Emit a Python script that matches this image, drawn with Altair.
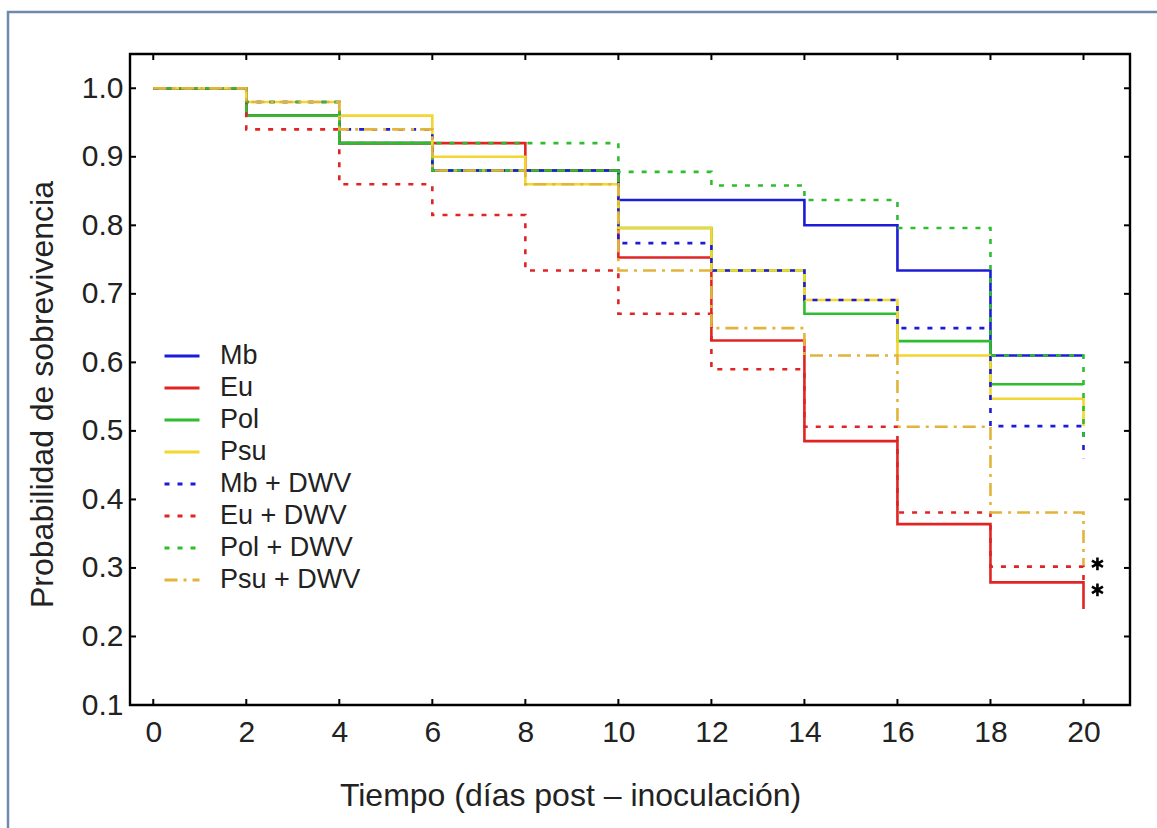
import altair as alt
import pandas as pd

# ---- data (Kaplan-Meier style step curves) ----
days = [0, 2, 4, 6, 8, 10, 12, 14, 16, 18, 20, 20]
series_names = ["Mb", "Eu", "Pol", "Psu", "Mb + DWV", "Eu + DWV", "Pol + DWV", "Psu + DWV"]

mb      = [1.00, 0.96, 0.92, 0.88, 0.88, 0.837, 0.837, 0.800, 0.734, 0.610, 0.610, 0.610]
eu      = [1.00, 0.96, 0.92, 0.92, 0.88, 0.753, 0.632, 0.485, 0.364, 0.279, 0.279, 0.240]
pol     = [1.00, 0.96, 0.92, 0.88, 0.88, 0.796, 0.734, 0.671, 0.631, 0.568, 0.568, 0.568]
psu     = [1.00, 0.98, 0.96, 0.90, 0.86, 0.796, 0.734, 0.691, 0.610, 0.547, 0.547, 0.507]
mb_dwv  = [1.00, 0.98, 0.94, 0.88, 0.88, 0.774, 0.734, 0.691, 0.650, 0.507, 0.507, 0.460]
eu_dwv  = [1.00, 0.94, 0.86, 0.815, 0.734, 0.671, 0.590, 0.506, 0.381, 0.302, 0.302, 0.280]
pol_dwv = [1.00, 0.98, 0.92, 0.92, 0.92, 0.878, 0.858, 0.837, 0.796, 0.610, 0.610, 0.490]
psu_dwv = [1.00, 0.98, 0.94, 0.88, 0.86, 0.734, 0.650, 0.610, 0.506, 0.381, 0.381, 0.304]

all_values = [mb, eu, pol, psu, mb_dwv, eu_dwv, pol_dwv, psu_dwv]

colors = ["#1c1cd8", "#e02424", "#2ebd2e", "#f3d630",
          "#1c1cd8", "#e02424", "#2ebd2e", "#e2b43c"]
dashes = [[1, 0], [1, 0], [1, 0], [1, 0],
          [5, 8], [5, 8], [5, 8], [13, 6, 3, 6]]

x_ticks = [0, 2, 4, 6, 8, 10, 12, 14, 16, 18, 20]
y_ticks = [0.1, 0.2, 0.3, 0.4, 0.5, 0.6, 0.7, 0.8, 0.9, 1.0]

# significance markers (asterisks) next to the Eu curves
star_x = [20.3, 20.3]
star_y = [0.306, 0.268]

rows = []
for name, vals in zip(series_names, all_values):
    for i, (d, v) in enumerate(zip(days, vals)):
        rows.append({"series": name, "t": d, "p": v, "idx": i})
df = pd.DataFrame(rows)

W, H = 1000, 651
FONT = "Liberation Sans, Arial, sans-serif"

xscale = alt.Scale(domain=[-0.5, 21], nice=False, zero=False)
yscale = alt.Scale(domain=[0.1, 1.05], nice=False, zero=False)

legend_cfg = dict(title=None, orient="none", legendX=33, legendY=287,
                  symbolType="stroke", symbolSize=1225, symbolStrokeWidth=3,
                  labelFontSize=27, labelFont=FONT, labelColor="#222",
                  labelOffset=19, rowPadding=2, clipHeight=30)

lines = alt.Chart(df).mark_line(interpolate="step-after", strokeWidth=2.6, clip=False).encode(
    x=alt.X("t:Q", scale=xscale,
            axis=alt.Axis(values=x_ticks, ticks=False, domain=False, grid=False,
                          labelFontSize=30, labelPadding=12, labelColor="#222",
                          labelFont=FONT, title="Tiempo (días post – inoculación)",
                          titleFont=FONT, titleFontSize=32, titleFontWeight="normal",
                          titleColor="#222", titleX=440, titleY=100,
                          titleBaseline="alphabetic")),
    y=alt.Y("p:Q", scale=yscale,
            axis=alt.Axis(values=y_ticks, format=".1f", ticks=False, domain=False, grid=False,
                          labelFontSize=30, labelPadding=7, labelColor="#222",
                          labelFont=FONT, title="Probabilidad de sobrevivencia",
                          titleFont=FONT, titleFontSize=32, titleFontWeight="normal",
                          titleColor="#222", titleAngle=-90, titleX=-78, titleY=340,
                          titleBaseline="alphabetic")),
    color=alt.Color("series:N", sort=series_names,
                    scale=alt.Scale(domain=series_names, range=colors),
                    legend=alt.Legend(**legend_cfg)),
    strokeDash=alt.StrokeDash("series:N", sort=series_names,
                              scale=alt.Scale(domain=series_names, range=dashes),
                              legend=alt.Legend(**legend_cfg)),
    order=alt.Order("idx:Q"),
)

stars = alt.Chart(pd.DataFrame({"x": star_x, "y": star_y})).mark_point(
    shape="M0,-1L0,1M-0.87,-0.5L0.87,0.5M-0.87,0.5L0.87,-0.5",
    filled=False, stroke="black", strokeWidth=2.6, size=160, opacity=1
).encode(x=alt.X("x:Q", scale=xscale), y=alt.Y("y:Q", scale=yscale))

xt = pd.DataFrame({"v": x_ticks})
yt = pd.DataFrame({"v": y_ticks})
tick_style = dict(color="black", strokeWidth=2)

bottom_ticks = alt.Chart(xt).mark_rule(**tick_style).encode(
    x=alt.X("v:Q", scale=xscale), y=alt.value(H), y2=alt.value(H - 6))
top_ticks = alt.Chart(xt).mark_rule(**tick_style).encode(
    x=alt.X("v:Q", scale=xscale), y=alt.value(0), y2=alt.value(6))
left_ticks = alt.Chart(yt).mark_rule(**tick_style).encode(
    y=alt.Y("v:Q", scale=yscale), x=alt.value(0), x2=alt.value(6))
right_ticks = alt.Chart(yt).mark_rule(**tick_style).encode(
    y=alt.Y("v:Q", scale=yscale), x=alt.value(W), x2=alt.value(W - 6))

frame = alt.Chart(pd.DataFrame({"a": [0]})).mark_rect(
    filled=False, stroke="#6f89ae", strokeWidth=2.5, fillOpacity=0, clip=False
).encode(x=alt.value(-122), x2=alt.value(W + 200), y=alt.value(-42), y2=alt.value(H + 300))

chart = alt.layer(frame, bottom_ticks, top_ticks, left_ticks, right_ticks, lines, stars).properties(
    width=W, height=H,
    background="white",
    autosize=alt.AutoSizeParams(type="none"),
    padding={"left": 130, "top": 54, "right": 27, "bottom": 123},
).configure_view(stroke="black", strokeWidth=2.4)

chart.save("out.html", embed_options={"renderer": "svg", "actions": False})
